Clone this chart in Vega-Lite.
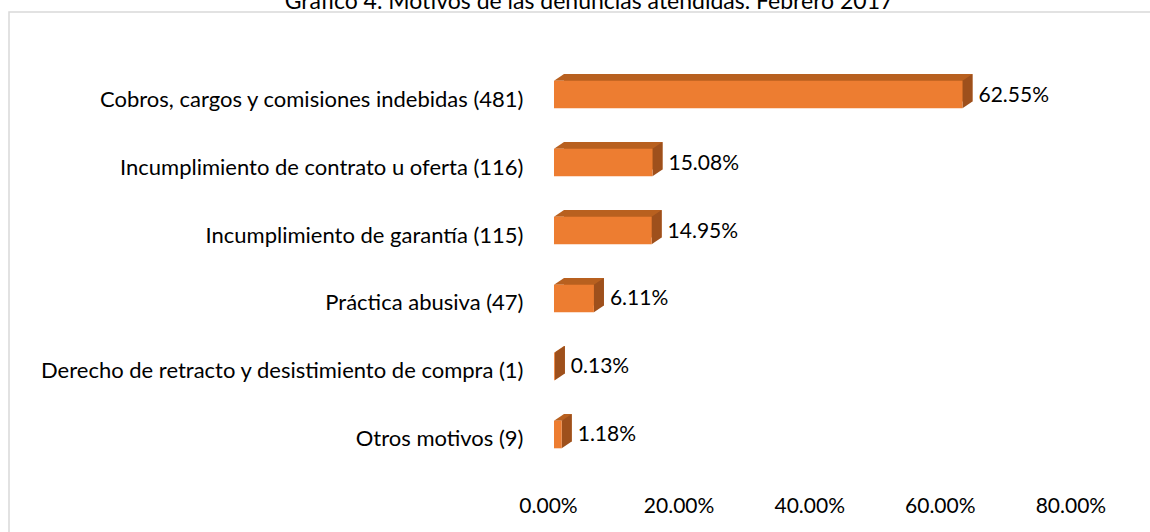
{
  "$schema": "https://vega.github.io/schema/vega-lite/v6.json",
  "width": 1160,
  "height": 540,
  "autosize": {"type": "none"},
  "padding": {"left": 9, "top": 12, "right": 0, "bottom": 0},
  "background": "white",
  "config": {
    "view": {"stroke": "#d9d9d9", "strokeWidth": 1.5},
    "font": "Lato"
  },
  "title": {
    "text": "Gráfico 4. Motivos de las denuncias atendidas. Febrero 2017",
    "anchor": "middle",
    "frame": "group",
    "baseline": "alphabetic",
    "offset": 2,
    "dy": 22,
    "fontSize": 23,
    "fontWeight": "normal",
    "font": "Lato",
    "color": "#000000"
  },
  "data": {
    "values": [
      {"motivo": "Cobros, cargos y comisiones indebidas (481)", "pct": 0.6255},
      {"motivo": "Incumplimiento de contrato u oferta (116)", "pct": 0.1508},
      {"motivo": "Incumplimiento de garantía (115)", "pct": 0.1495},
      {"motivo": "Práctica abusiva (47)", "pct": 0.0611},
      {"motivo": "Derecho de retracto y desistimiento de compra (1)", "pct": 0.0013},
      {"motivo": "Otros motivos (9)", "pct": 0.0118}
    ]
  },
  "encoding": {
    "y": {
      "field": "motivo",
      "type": "nominal",
      "sort": null,
      "scale": {"range": [68.7, 436.3], "paddingInner": 0.594, "paddingOuter": 0},
      "axis": {
        "title": null,
        "ticks": false,
        "domain": false,
        "grid": false,
        "offset": -514,
        "labelPadding": 0,
        "labelOffset": 5,
        "labelLimit": 0,
        "labelFont": "Lato",
        "labelFontSize": 22,
        "labelColor": "#000000"
      }
    },
    "x": {
      "field": "pct",
      "type": "quantitative",
      "scale": {"domain": [-0.8346, 0.9418], "nice": false, "zero": false},
      "axis": {
        "title": null,
        "format": ".2%",
        "values": [0, 0.2, 0.4, 0.6, 0.8],
        "offset": -46,
        "labelOffset": -6,
        "ticks": false,
        "tickSize": 0,
        "domain": false,
        "grid": false,
        "labelPadding": 0,
        "labelBaseline": "middle",
        "labelFont": "Lato",
        "labelFontSize": 21,
        "labelColor": "#000000"
      }
    }
  },
  "layer": [
    {
      "mark": {"type": "bar", "color": "#B8601F", "xOffset": 10, "x2Offset": 10, "yOffset": -6.7, "y2Offset": -6.7},
      "encoding": {"x2": {"datum": 0}}
    },
    {
      "mark": {"type": "point", "shape": "M0,-13.8L10,-20.5L10,-13.8Z", "size": 4, "filled": true, "color": "#B8601F", "opacity": 1, "strokeWidth": 0},
      "encoding": {"x": {"datum": 0}}
    },
    {
      "mark": {"type": "point", "shape": "M0,-13.8L10,-20.5L10,7.1L0,13.8Z", "size": 4, "filled": true, "color": "#9E501C", "opacity": 1, "strokeWidth": 0},
      "encoding": {}
    },
    {
      "mark": {"type": "bar", "color": "#ED7D31"},
      "encoding": {"x2": {"datum": 0}}
    },
    {
      "mark": {"type": "text", "align": "left", "baseline": "middle", "dx": 16, "dy": 1, "fontSize": 21, "font": "Lato", "color": "#000000"},
      "encoding": {"text": {"field": "pct", "type": "quantitative", "format": ".2%"}}
    }
  ]
}
